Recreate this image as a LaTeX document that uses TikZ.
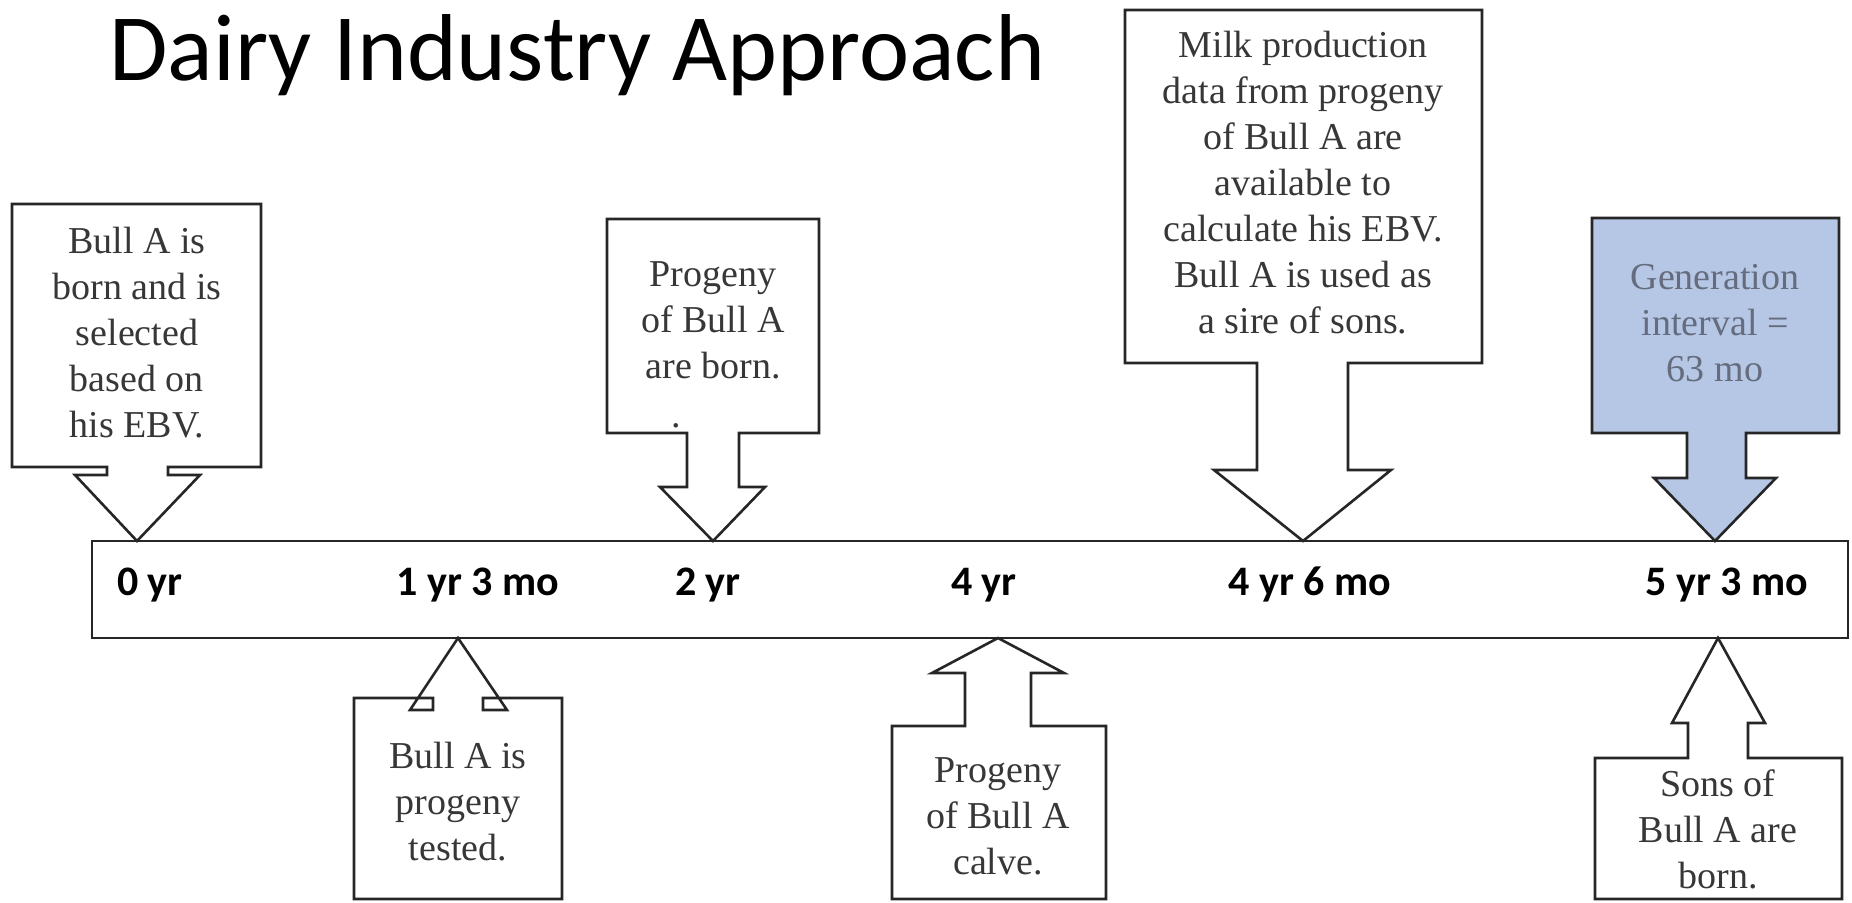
\documentclass[tikz,border=0pt]{standalone}
\usepackage{fontspec}
\setmainfont{Liberation Serif}
\newfontfamily\calibrilike{Carlito}
\definecolor{paleblue}{RGB}{182,199,230}
\definecolor{boxink}{RGB}{55,55,55}
\definecolor{blueink}{RGB}{100,108,125}
\begin{document}
\begin{tikzpicture}[x=1pt,y=-1pt,
  callout/.style={draw=black!85, line width=2.6pt, fill=white, line join=miter},
  boxtext/.style={font=\fontsize{38}{46}\selectfont, text=boxink, align=center},
  yearlabel/.style={font=\calibrilike\bfseries\fontsize{42}{42}\selectfont, anchor=base},
  titletext/.style={font=\calibrilike\fontsize{95}{95}\selectfont, anchor=base west}]
\useasboundingbox (0,0) rectangle (1852,902);

% title
\node[titletext] (title) at (106,80) {Dairy Industry Approach};

% timeline bar
\draw[line width=2.6pt, draw=black!85, fill=white] (92,541) rectangle (1848,638);
\node[yearlabel] (y0)  at (150,595)  {0 yr};
\node[yearlabel] (y1)  at (478,595)  {1 yr 3 mo};
\node[yearlabel] (y2)  at (708,595)  {2 yr};
\node[yearlabel] (y4)  at (984,595)  {4 yr};
\node[yearlabel] (y46) at (1310,595) {4 yr 6 mo};
\node[yearlabel] (y53) at (1727,595) {5 yr 3 mo};

% callouts above the bar (pointing down)
\draw[callout] (12,204) -- (261,204) -- (261,467) -- (168,467) -- (168,475) -- (200,475)
  -- (137,541) -- (75,475) -- (107,475) -- (107,467) -- (12,467) -- cycle;
\draw[callout] (607,219) -- (819,219) -- (819,433) -- (739,433) -- (739,487) -- (765,487)
  -- (713,541) -- (660,487) -- (687,487) -- (687,433) -- (607,433) -- cycle;
\draw[callout] (1125,10) -- (1482,10) -- (1482,363) -- (1348,363) -- (1348,470) -- (1391,470)
  -- (1303,541) -- (1214,470) -- (1257,470) -- (1257,363) -- (1125,363) -- cycle;
\draw[callout, fill=paleblue] (1592,218) -- (1839,218) -- (1839,433) -- (1746,433) -- (1746,478) -- (1776,478)
  -- (1715,541) -- (1654,478) -- (1687,478) -- (1687,433) -- (1592,433) -- cycle;

% callouts below the bar (pointing up)
\draw[callout] (354,698) -- (433,698) -- (433,710) -- (410,710) -- (458,638) -- (507,710)
  -- (483,710) -- (483,698) -- (562,698) -- (562,899) -- (354,899) -- cycle;
\draw[callout] (892,726) -- (965,726) -- (965,673) -- (932,673) -- (998,638) -- (1064,673)
  -- (1031,673) -- (1031,726) -- (1106,726) -- (1106,899) -- (892,899) -- cycle;
\draw[callout] (1595,758) -- (1688,758) -- (1688,723) -- (1672,723) -- (1718,638) -- (1765,723)
  -- (1748,723) -- (1748,758) -- (1842,758) -- (1842,899) -- (1595,899) -- cycle;

% callout texts
\node[boxtext] (t0) at (137,333) {Bull A is\\born and is\\selected\\based on\\his EBV.};
\node[boxtext] (t2) at (713,320) {Progeny\\of Bull A\\are born.};
\node[boxtext] (dot) at (676,426) {.};
\node[boxtext] (t46) at (1303,183) {Milk production\\data from progeny\\of Bull A are\\available to\\calculate his EBV.\\Bull A is used as\\a sire of sons.};
\node[boxtext, text=blueink] (t53) at (1715,323) {Generation\\interval =\\63 mo};
\node[boxtext] (t1) at (458,802) {Bull A is\\progeny\\tested.};
\node[boxtext] (t4) at (998,816) {Progeny\\of Bull A\\calve.};
\node[boxtext] (t5) at (1718,829) {Sons of\\Bull A are\\born.};
\end{tikzpicture}
\end{document}
